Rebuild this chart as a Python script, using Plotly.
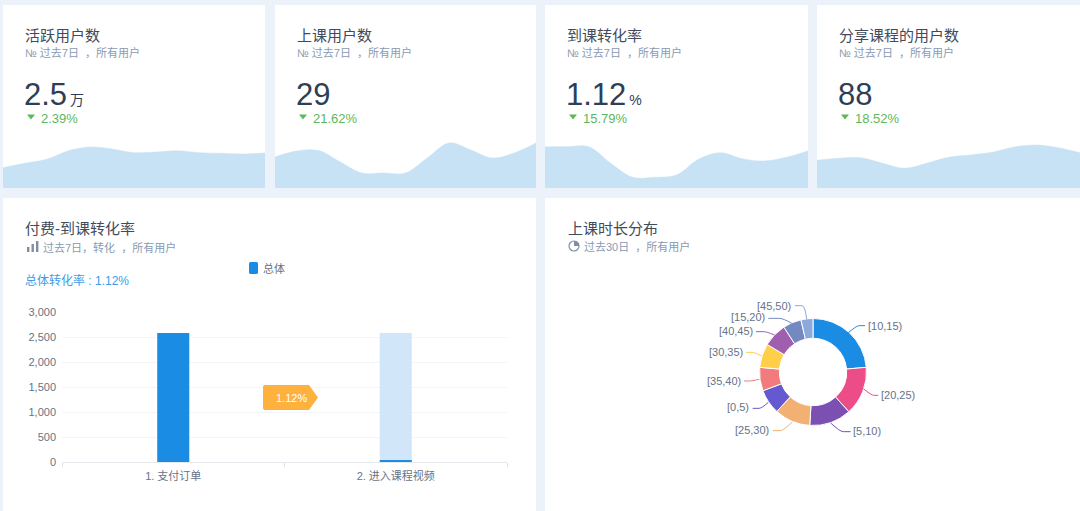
import plotly.graph_objects as go

W, H = 1080, 511
FONT = "Liberation Sans, Noto Sans CJK SC, sans-serif"

# ---- data ----
days = [0, 0.5, 1, 1.5, 2, 2.5, 3, 3.5, 4, 4.5, 5, 5.5, 6]
active_users = [20.3, 24.7, 28.7, 37.3, 41, 39, 35.3, 36, 37.3, 35.3, 34.7, 34, 35]
class_users = [31, 37, 37.5, 26, 15, 15, 15, 30, 45, 38, 30, 35, 45]
attend_rate = [41.3, 41.3, 41.3, 24.7, 10.7, 10.7, 13, 28.7, 35.3, 29.3, 27, 30.7, 37]
share_users = [27.7, 29.7, 30.3, 24.7, 19.7, 24.7, 30.7, 33, 35.7, 41, 43, 40.3, 35.3]

card_titles = ["活跃用户数", "上课用户数", "到课转化率", "分享课程的用户数"]
card_values = ["2.5", "29", "1.12", "88"]
card_units = ["万", "", "%", ""]
card_deltas = ["2.39%", "21.62%", "15.79%", "18.52%"]

funnel_steps = ["1. 支付订单", "2. 进入课程视频"]
funnel_converted = [2580, 29]
funnel_base = [None, 2580]
funnel_ticks = [0, 500, 1000, 1500, 2000, 2500, 3000]

duration_labels = ["[10,15)", "[20,25)", "[5,10)", "[25,30)", "[0,5)",
                   "[35,40)", "[30,35)", "[40,45)", "[15,20)", "[45,50)"]
duration_values = [85, 53, 45.5, 39, 27, 25.5, 26, 26, 20, 13]
duration_colors = ["#1a8ce3", "#ec4c87", "#7c4fb3", "#f2b173", "#6559d1",
                   "#f27c7c", "#ffcf4a", "#a05fae", "#7488c2", "#8da8dc"]

# ---- helpers ----
def px(x):
    return x / W

def py(y):
    return 1 - y / H

def rect(x0, y0, x1, y1, color, layer="below"):
    return dict(type="rect", xref="paper", yref="paper", x0=px(x0), x1=px(x1),
                y0=py(y1), y1=py(y0), fillcolor=color, line_width=0, layer=layer)

def path(points, fill=None, line=None, width=1, layer="above"):
    d = []
    for cmd, *pts in points:
        if cmd == "Q":
            d.append("Q " + " ".join(f"{px(a):.5f},{py(b):.5f}" for a, b in pts))
        elif cmd == "Z":
            d.append("Z")
        else:
            for a, b in pts:
                d.append(f"{cmd} {px(a):.5f},{py(b):.5f}")
                cmd = "L"
    s = dict(type="path", xref="paper", yref="paper", path=" ".join(d), layer=layer,
             line=dict(color=line or "rgba(0,0,0,0)", width=width if line else 0))
    if fill:
        s["fillcolor"] = fill
    return s

def text(x, y, s, size, color, anchor="left"):
    return dict(xref="paper", yref="paper", x=px(x), y=py(y), text=s, showarrow=False,
                xanchor=anchor, yanchor="middle", align=anchor,
                font=dict(size=size, color=color, family=FONT), borderpad=0, borderwidth=0)

TITLE = "#414b5c"
SUB = "#8a9ab2"
DARK = "#2f3e57"
GREEN = "#5cb85c"
LABEL = "#667387"

fig = go.Figure()
shapes, annos = [], []

# ---- metric cards ----
cards = [(3, 265), (275, 536), (545, 808), (817, 1080)]
series = [active_users, class_users, attend_rate, share_users]
CARD_TOP, CARD_BOTTOM = 5, 188
layout_axes = {}
for i, ((x0, x1), vals) in enumerate(zip(cards, series), start=1):
    shapes.append(rect(x0, CARD_TOP, x1, CARD_BOTTOM, "#ffffff"))
    fig.add_trace(go.Scatter(x=days, y=vals, mode="lines", fill="tozeroy",
                             line=dict(color="#c7e1f5", width=0.5, shape="spline", smoothing=1.0),
                             fillcolor="#c7e1f5", hoverinfo="skip", showlegend=False,
                             xaxis=f"x{i}", yaxis=f"y{i}"))
    layout_axes[f"xaxis{i}"] = dict(domain=[px(x0), px(x1)], visible=False, range=[0, 6],
                                    anchor=f"y{i}", fixedrange=True, automargin=False)
    layout_axes[f"yaxis{i}"] = dict(domain=[py(CARD_BOTTOM), py(CARD_TOP)], visible=False,
                                    range=[0, CARD_BOTTOM - CARD_TOP], anchor=f"x{i}", fixedrange=True,
                                    automargin=False)
    tx = x0 + 22
    annos.append(text(tx, 35, card_titles[i - 1], 15, TITLE))
    annos.append(text(tx, 53, "№ 过去7日  ，所有用户", 11, SUB))
    unit = f"<span style='font-size:14px'>\u2009{card_units[i-1]}</span>" if card_units[i - 1] else ""
    annos.append(text(tx - 1, 94, card_values[i - 1] + unit, 31, DARK))
    shapes.append(path([("M", (tx + 2, 114.5), (tx + 10, 114.5), (tx + 6, 119.5)), ("Z",)], fill=GREEN))
    annos.append(text(tx + 16, 118, card_deltas[i - 1], 13, GREEN))

# ---- funnel card ----
shapes.append(rect(3, 198, 536, 511, "#ffffff"))
shapes.append(rect(545, 198, 1080, 511, "#ffffff"))
annos.append(text(25, 229, "付费-到课转化率", 15, TITLE))
annos.append(text(43, 247, "过去7日，转化  ，所有用户", 11, SUB))
for bx, top in [(27, 247), (31.5, 244), (36, 241)]:
    shapes.append(rect(bx, top, bx + 2.4, 252, "#7f8ea3", layer="above"))
annos.append(text(25, 280, "总体转化率 : 1.12%", 12, "#3d9be9"))

fig.add_trace(go.Bar(x=funnel_steps, y=funnel_base, marker_color="#d1e6f8", marker_line_width=0, width=0.144,
                     showlegend=False, hoverinfo="skip", xaxis="x5", yaxis="y5"))
fig.add_trace(go.Bar(x=funnel_steps, y=funnel_converted, name="总体", marker_color="#1a8ce3", marker_line_width=0,
                     width=0.144, showlegend=False, xaxis="x5", yaxis="y5"))
layout_axes["xaxis5"] = dict(domain=[px(62), px(507)], anchor="y5", type="category",
                             tickson="boundaries", ticks="outside", ticklen=4, tickcolor="#dfe3e9",
                             showline=True, linecolor="#e6e9ee", showgrid=False, automargin=False,
                             ticklabelstandoff=4,
                             tickfont=dict(size=11, color=LABEL, family=FONT), fixedrange=True)
layout_axes["yaxis5"] = dict(domain=[py(462), py(312)], anchor="x5", range=[0, 3000],
                             tickvals=funnel_ticks, tickformat=",", ticks="", showline=False,
                             gridcolor="#f2f4f7", gridwidth=1, zeroline=False, automargin=False,
                             ticklabelstandoff=5,
                             tickfont=dict(size=11, color=LABEL, family=FONT), fixedrange=True)

# legend swatch
r = 1.5
shapes.append(path([("M", (249 + r, 262)), ("L", (258 - r, 262)), ("Q", (258, 262), (258, 262 + r)),
                    ("L", (258, 274 - r)), ("Q", (258, 274), (258 - r, 274)), ("L", (249 + r, 274)),
                    ("Q", (249, 274), (249, 274 - r)), ("L", (249, 262 + r)), ("Q", (249, 262), (249 + r, 262)),
                    ("Z",)], fill="#1a8ce3"))
annos.append(text(263, 268, "总体", 11, LABEL))

# conversion tag
shapes.append(path([("M", (265, 385)), ("L", (309, 385), (318, 397.5), (309, 410), (265, 410)),
                    ("Q", (263, 410), (263, 408)), ("L", (263, 387)), ("Q", (263, 385), (265, 385)), ("Z",)],
                   fill="#ffb13d"))
annos.append(text(291, 397.5, "1.12%", 11, "#ffffff", anchor="center"))

# ---- duration donut ----
annos.append(text(568, 229, "上课时长分布", 15, TITLE))
annos.append(text(584, 246, "过去30日  ，所有用户", 11, SUB))
shapes.append(dict(type="circle", xref="paper", yref="paper", x0=px(569), x1=px(579), y0=py(251), y1=py(241),
                   line=dict(color="#7f8ea3", width=1.2), layer="above"))
shapes.append(path([("M", (574, 246), (574, 241)), ("Q", (579, 241), (579, 246)), ("Z",)], fill="#7f8ea3"))

CX, CY, R = 813, 372, 53.5
fig.add_trace(go.Pie(labels=duration_labels, values=duration_values, sort=False, direction="clockwise",
                     rotation=0, hole=0.63, textinfo="none", showlegend=False,
                     marker=dict(colors=duration_colors, line=dict(color="#ffffff", width=1)),
                     domain=dict(x=[px(CX - R), px(CX + R)], y=[py(CY + R), py(CY - R)])))

# leader lines in the reference's zoom coords
def zx(v):
    return 680 + v / 3

def zy(v):
    return 290 + v / 3

leaders = [
    ((505, 128), (530, 107), (555, 107), (563, 110), "left"),
    ((550, 296), (575, 316), (595, 316), (603, 317), "left"),
    ((452, 399), (480, 425), (512, 425), (520, 425), "left"),
    ((338, 395), (310, 422), (278, 422), (268, 422), "right"),
    ((265, 337), (245, 355), (218, 355), (208, 355), "right"),
    ((238, 268), (215, 273), (192, 273), (182, 277), "right"),
    ((245, 198), (225, 187), (198, 187), (188, 190), "right"),
    ((283, 135), (260, 125), (228, 125), (218, 127), "right"),
    ((335, 100), (310, 85), (265, 85), (255, 85), "right"),
    ((380, 87), (375, 47), (345, 47), (333, 50), "right"),
]
for lab, col, (a, b, c, t, anc) in zip(duration_labels, duration_colors, leaders):
    shapes.append(path([("M", (zx(a[0]), zy(a[1]))),
                        ("Q", (zx(b[0]), zy(b[1])), (zx(b[0]) + (zx(c[0]) - zx(b[0])) * 0.3, zy(c[1]))),
                        ("L", (zx(c[0]), zy(c[1])))], line=col, width=1))
    annos.append(text(zx(t[0]), zy(t[1]) - 1, lab, 11, LABEL, anchor=anc))

fig.update_layout(width=W, height=H, margin=dict(l=0, r=0, t=0, b=0, autoexpand=False), autosize=False,
                  paper_bgcolor="#ecf2f9", plot_bgcolor="rgba(0,0,0,0)", barmode="overlay",
                  shapes=shapes, annotations=annos, font=dict(family=FONT), showlegend=False,
                  **layout_axes)

fig.write_html("out.html", config=dict(displayModeBar=False),
               post_script="document.body.style.margin='0';document.documentElement.style.overflow='hidden';")
